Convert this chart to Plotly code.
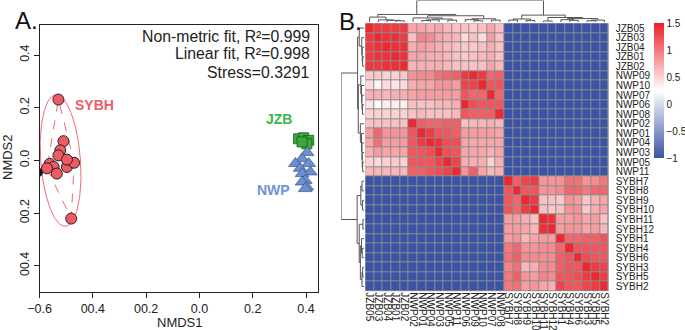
import numpy as np
import plotly.graph_objects as go

W, H = 685, 330
def px(v): return v / W
def py(v): return 1 - v / H

FONT = "Arial, Liberation Sans, Helvetica, sans-serif"

# ---------------- Panel A data (NMDS scores) ----------------
sybh_x = [-0.529, -0.510, -0.522, -0.529, -0.562, -0.547, -0.535, -0.497, -0.470, -0.497, -0.572, -0.481]
sybh_y = [0.231, 0.073, 0.038, 0.019, -0.013, -0.025, -0.050, -0.025, -0.009, 0.003, -0.030, -0.221]
jzb_x = [0.372, 0.391, 0.410, 0.403, 0.385]
jzb_y = [0.082, 0.086, 0.076, 0.063, 0.070]
nwp_x = [0.404, 0.385, 0.360, 0.410, 0.378, 0.416, 0.385, 0.397, 0.385, 0.403, 0.397]
nwp_y = [0.030, 0.006, -0.012, -0.012, -0.030, -0.044, -0.050, -0.076, -0.082, -0.101, -0.107]
edge_x = [-0.604]
edge_y = [-0.045]

x_tickvals = [-0.6, -0.4, -0.2, 0.0, 0.2, 0.4]
x_ticktext = ["\u22120.6", "00.4", "00.2", "0.0", "0.2", "0.4"]
y_tickvals = [-0.4, -0.2, 0.0, 0.2, 0.4]
y_ticktext = ["00.4", "00.2", "0.0", "0.2", "0.4"]
stats_lines = ["Non-metric fit, R\u00b2=0.999", "Linear fit, R\u00b2=0.998", "Stress=0.3291"]
stats_y = [0.470, 0.406, 0.334]

group_names = ["SYBH", "JZB", "NWP"]
group_label_x = [-0.395, 0.299, 0.277]
group_label_y = [0.209, 0.156, -0.114]
group_colors = ["#EF5B66", "#3DB54A", "#6F93D6"]

# ---------------- Panel B data (correlation heatmap) ----------------
col_labels = ["JZB05", "JZB03", "JZB04", "JZB01", "JZB02",
              "NWP02", "NWP01", "NWP04", "NWP03", "NWP05", "NWP11",
              "NWP06", "NWP09", "NWP10", "NWP07", "NWP08",
              "SYBH7", "SYBH8", "SYBH9", "SYBH10", "SYBH11", "SYBH12",
              "SYBH1", "SYBH4", "SYBH6", "SYBH3", "SYBH5", "SYBH2"]
row_labels = ["JZB05", "JZB03", "JZB04", "JZB01", "JZB02",
              "NWP09", "NWP10", "NWP07", "NWP06", "NWP08",
              "NWP02", "NWP01", "NWP04", "NWP03", "NWP05", "NWP11",
              "SYBH7", "SYBH8", "SYBH9", "SYBH10", "SYBH11", "SYBH12",
              "SYBH1", "SYBH4", "SYBH6", "SYBH3", "SYBH5", "SYBH2"]

block_jzb_nwp = [
    [1.45, 1.35, 1.35, 1.35, 1.35, 0.75, 0.75, 0.70, 0.75, 0.65, 0.60, 0.60, 0.55, 0.60, 0.75, 0.60],
    [1.35, 1.45, 1.40, 1.40, 1.35, 0.60, 0.95, 0.90, 0.75, 0.70, 0.65, 0.45, 0.60, 0.45, 0.80, 0.60],
    [1.35, 1.40, 1.45, 1.40, 1.40, 0.70, 0.80, 0.75, 0.70, 0.65, 0.60, 0.55, 0.55, 0.60, 0.70, 0.60],
    [1.35, 1.40, 1.40, 1.45, 1.40, 0.75, 0.75, 0.70, 0.70, 0.65, 0.60, 0.55, 0.60, 0.65, 0.70, 0.60],
    [1.35, 1.35, 1.40, 1.40, 1.45, 0.65, 0.70, 0.70, 0.70, 0.65, 0.60, 0.60, 0.60, 0.60, 0.75, 0.65],
    [0.55, 0.55, 0.50, 0.50, 0.55, 0.85, 0.90, 0.90, 1.05, 1.10, 1.15, 1.35, 1.45, 1.35, 1.10, 1.15],
    [0.45, 0.30, 0.45, 0.40, 0.45, 0.70, 0.75, 0.75, 0.85, 0.85, 0.80, 1.30, 1.30, 1.45, 1.20, 1.20],
    [0.70, 0.70, 0.65, 0.70, 0.70, 0.75, 0.80, 0.80, 0.80, 0.80, 0.80, 1.20, 1.10, 1.10, 1.45, 1.10],
    [0.40, 0.22, 0.35, 0.35, 0.35, 0.60, 0.60, 0.60, 0.65, 0.65, 0.70, 1.45, 1.25, 1.20, 1.20, 1.20],
    [0.50, 0.50, 0.50, 0.50, 0.50, 0.60, 0.65, 0.60, 0.60, 0.60, 0.65, 1.20, 1.15, 1.15, 1.15, 1.45],
    [0.60, 0.60, 0.60, 0.60, 0.60, 1.45, 1.15, 1.10, 1.10, 1.15, 1.15, 0.60, 0.65, 0.65, 0.70, 0.65],
    [0.80, 1.10, 0.85, 0.85, 0.85, 1.20, 1.45, 1.35, 1.20, 1.20, 1.15, 0.80, 0.80, 0.80, 0.80, 0.75],
    [0.75, 1.05, 0.80, 0.80, 0.80, 1.20, 1.35, 1.45, 1.40, 1.25, 1.25, 0.75, 0.75, 0.75, 0.75, 0.75],
    [0.70, 0.80, 0.75, 0.75, 0.75, 1.20, 1.20, 1.25, 1.45, 1.25, 1.20, 0.75, 0.75, 0.75, 0.70, 0.75],
    [0.50, 0.45, 0.50, 0.55, 0.50, 1.20, 1.20, 1.20, 1.30, 1.45, 1.30, 0.70, 0.70, 0.70, 0.50, 0.70],
    [0.65, 0.65, 0.65, 0.65, 0.65, 1.15, 1.15, 1.20, 1.25, 1.30, 1.45, 0.85, 1.15, 0.75, 0.65, 0.70],
]
block_sybh = [
    [1.45, 1.15, 1.30, 1.35, 0.85, 0.85, 0.85, 1.05, 1.05, 0.85, 0.90, 1.00],
    [1.20, 1.45, 1.20, 1.20, 0.85, 0.85, 0.90, 1.10, 1.10, 1.00, 1.10, 1.10],
    [1.20, 1.10, 1.45, 1.35, 0.60, 0.60, 0.55, 0.85, 0.80, 0.55, 0.70, 0.75],
    [1.20, 1.10, 1.35, 1.45, 0.60, 0.55, 0.60, 0.85, 0.85, 0.55, 0.70, 0.75],
    [0.80, 0.80, 0.70, 0.60, 1.45, 1.40, 0.80, 0.80, 0.85, 0.75, 0.80, 0.60],
    [0.80, 0.80, 0.75, 0.65, 1.40, 1.45, 0.80, 0.85, 0.85, 0.75, 0.80, 0.65],
    [0.80, 0.85, 0.65, 0.75, 0.80, 0.80, 1.45, 1.10, 1.10, 1.15, 1.15, 1.20],
    [1.00, 1.10, 0.85, 0.85, 0.90, 0.90, 1.10, 1.45, 1.20, 1.20, 1.20, 1.20],
    [1.05, 1.15, 0.90, 0.90, 0.90, 0.90, 1.15, 1.20, 1.45, 1.25, 1.20, 1.20],
    [0.95, 1.05, 0.65, 0.70, 0.90, 0.90, 1.15, 1.20, 1.20, 1.45, 1.35, 1.30],
    [1.00, 1.15, 0.85, 0.80, 0.95, 0.90, 1.20, 1.20, 1.25, 1.35, 1.45, 1.35],
    [1.00, 1.05, 0.80, 0.85, 0.75, 0.70, 1.30, 1.20, 1.20, 1.30, 1.35, 1.45],
]
between_value = -1.0

cbar_vals = [-1, -0.5, 0, 0.5, 1, 1.5]
cbar_text = ["\u22121", "\u22120.5", "0", "0.5", "1", "1.5"]

# dendrogram trees: (left, right, height); ints are leaf positions
col_tree = (
    ((0, (1, (2, (3, 4, 0.07), 0.09), 0.11), 0.24),
     ((5, (((6, 7, 0.08), 8, 0.11), (9, 10, 0.10), 0.15), 0.20),
      ((11, (12, 13, 0.07), 0.12), (14, 15, 0.10), 0.16), 0.30), 0.36),
    (((16, 17, 0.10), (18, 19, 0.08), 0.15),
     ((20, 21, 0.06), ((22, (23, 24, 0.09), 0.12), ((25, 26, 0.07), 27, 0.10), 0.17), 0.22), 0.33),
    1.0)
row_tree = (
    ((0, (1, (2, (3, 4, 0.07), 0.09), 0.11), 0.22),
     ((5, (6, (7, (8, 9, 0.08), 0.10), 0.12), 0.15),
      (10, (11, (12, (13, (14, 15, 0.07), 0.09), 0.10), 0.12), 0.17), 0.26), 0.29),
    (((16, 17, 0.10), (18, 19, 0.08), 0.15),
     ((20, 21, 0.06), ((22, (23, 24, 0.09), 0.12), ((25, 26, 0.07), 27, 0.10), 0.17), 0.22), 0.31),
    1.0)

# ---------------- helpers ----------------
def dendro(node, a_list, h_list):
    if isinstance(node, int):
        return float(node), 0.0
    l, r, h = node
    pl, hl = dendro(l, a_list, h_list)
    pr, hr = dendro(r, a_list, h_list)
    a_list += [pl, pl, pr, pr, None]
    h_list += [hl, h, h, hr, None]
    return (pl + pr) / 2, h

def convex_hull(points):
    P = sorted(set(points))
    def cross(o, a, b):
        return (a[0] - o[0]) * (b[1] - o[1]) - (a[1] - o[1]) * (b[0] - o[0])
    lower, upper = [], []
    for p in P:
        while len(lower) >= 2 and cross(lower[-2], lower[-1], p) <= 0:
            lower.pop()
        lower.append(p)
    for p in reversed(P):
        while len(upper) >= 2 and cross(upper[-2], upper[-1], p) <= 0:
            upper.pop()
        upper.append(p)
    h = lower[:-1] + upper[:-1]
    return h + [h[0]]

# SYBH dispersion ellipse (95% sd) from data
pts = np.column_stack([sybh_x, sybh_y])
mu = pts.mean(axis=0)
cov = np.cov(pts.T)
vals, vecs = np.linalg.eigh(cov)
t = np.linspace(0, 2 * np.pi, 240)
circ = np.vstack([np.cos(t), np.sin(t)])
k = np.sqrt(-2 * np.log(1 - 0.95))
ell = mu[:, None] + vecs @ (np.sqrt(vals)[:, None] * k * circ)
hull = convex_hull(list(zip(sybh_x, sybh_y)))

fig = go.Figure()

# ---- Panel A traces ----
fig.add_trace(go.Scatter(x=ell[0], y=ell[1], mode="lines",
                         line=dict(color="#F06A74", width=1), xaxis="x", yaxis="y", showlegend=False))
fig.add_trace(go.Scatter(x=[p[0] for p in hull], y=[p[1] for p in hull], mode="lines",
                         line=dict(color="#F06A74", width=1, dash="dash"), xaxis="x", yaxis="y", showlegend=False))
fig.add_trace(go.Scatter(x=edge_x, y=edge_y, mode="markers",
                         marker=dict(symbol="circle", size=9, color="#111111"),
                         xaxis="x", yaxis="y", showlegend=False))
fig.add_trace(go.Scatter(x=jzb_x, y=jzb_y, mode="markers",
                         marker=dict(symbol="square", size=10, color="#3BAA3C",
                                     line=dict(color="#1d5a1d", width=0.8)),
                         xaxis="x", yaxis="y", showlegend=False))
fig.add_trace(go.Scatter(x=nwp_x, y=nwp_y, mode="markers",
                         marker=dict(symbol="triangle-up", size=12, color="#6A8FD3",
                                     line=dict(color="#334466", width=0.6)),
                         xaxis="x", yaxis="y", showlegend=False))
fig.add_trace(go.Scatter(x=sybh_x, y=sybh_y, mode="markers",
                         marker=dict(symbol="circle", size=11, color="#EF5A64",
                                     line=dict(color="#222222", width=1)),
                         xaxis="x", yaxis="y", showlegend=False))

# ---- Panel B: heatmap ----
n = len(row_labels)
z = np.full((n, n), between_value)
nb = len(block_jzb_nwp)
z[:nb, :nb] = np.array(block_jzb_nwp)
z[nb:, nb:] = np.array(block_sybh)

fig.add_trace(go.Heatmap(
    z=z, x=list(range(n)), y=list(range(n)), xaxis="x2", yaxis="y2",
    zmin=-1, zmax=1.5, xgap=1, ygap=1,
    colorscale=[[0, "#3A53A4"], [0.5, "#FFFFFF"], [1, "#EC1F28"]],
    colorbar=dict(x=px(654), xanchor="left", y=py(23), yanchor="top", xpad=0, ypad=0,
                  len=135 / H, lenmode="fraction", thickness=10, thicknessmode="pixels",
                  outlinewidth=0, ticks="", tickvals=cbar_vals, ticktext=cbar_text,
                  tickfont=dict(family=FONT, size=10, color="#222")),
    hoverinfo="skip"))

xs, hs = [], []
dendro(col_tree, xs, hs)
fig.add_trace(go.Scatter(x=xs, y=hs, mode="lines", line=dict(color="#555555", width=1),
                         xaxis="x3", yaxis="y3", showlegend=False, hoverinfo="skip"))
ys, hs2 = [], []
dendro(row_tree, ys, hs2)
fig.add_trace(go.Scatter(x=hs2, y=ys, mode="lines", line=dict(color="#555555", width=1),
                         xaxis="x4", yaxis="y4", showlegend=False, hoverinfo="skip"))

hm_x0, hm_x1 = 365.3, 608.7
hm_y0, hm_y1 = 23.3, 291.3

axis_font = dict(family=FONT, size=12.5, color="#222")
fig.update_layout(
    template="none",
    width=W, height=H, margin=dict(l=0, r=0, t=0, b=0, pad=0), autosize=False,
    paper_bgcolor="white", plot_bgcolor="white", showlegend=False,
    font=dict(family=FONT, color="#222"),
    xaxis=dict(domain=[px(39.5), px(318.3)], range=[-0.6, 0.446], showline=True, mirror=True,
               linecolor="#222", linewidth=1, ticks="outside", ticklen=5, tickcolor="#222",
               tickvals=x_tickvals, ticktext=x_ticktext, tickfont=axis_font,
               showgrid=False, zeroline=False, anchor="y", automargin=False),
    yaxis=dict(domain=[py(291.7), py(25)], range=[-0.4985, 0.514], showline=True, mirror=True,
               linecolor="#222", linewidth=1, ticks="outside", ticklen=5, tickcolor="#222",
               tickvals=y_tickvals, ticktext=y_ticktext, tickfont=axis_font, tickangle=-90,
               showgrid=False, zeroline=False, anchor="x", automargin=False),
    xaxis2=dict(domain=[px(hm_x0), px(hm_x1)], range=[-0.5, n - 0.5], anchor="y2",
                tickvals=list(range(n)), ticktext=col_labels, tickangle=90,
                tickfont=dict(family=FONT, size=10, color="#222"), ticks="",
                showgrid=False, zeroline=False, showline=False, automargin=False),
    yaxis2=dict(domain=[py(hm_y1), py(hm_y0)], range=[n - 0.5, -0.5], anchor="x2", side="right",
                tickvals=list(range(n)), ticktext=row_labels, ticklabelstandoff=6,
                tickfont=dict(family=FONT, size=10, color="#222"), ticks="",
                showgrid=False, zeroline=False, showline=False, automargin=False),
    xaxis3=dict(domain=[px(hm_x0), px(hm_x1)], range=[-0.5, n - 0.5], anchor="y3",
                visible=False, automargin=False),
    yaxis3=dict(domain=[py(22.3), py(0.5)], range=[0, 1.0], anchor="x3", visible=False,
                automargin=False),
    xaxis4=dict(domain=[px(341.2), px(364.3)], range=[1.0, 0.0], anchor="y4", visible=False,
                automargin=False),
    yaxis4=dict(domain=[py(hm_y1), py(hm_y0)], range=[n - 0.5, -0.5], anchor="x4", visible=False,
                automargin=False),
    shapes=[dict(type="rect", xref="x2", yref="y2", x0=-0.56, x1=n - 0.44, y0=-0.56, y1=n - 0.44,
                 fillcolor="#8C8C8C", line=dict(width=0), layer="below")],
)

ann = []
for txt, yv in zip(stats_lines, stats_y):
    ann.append(dict(x=0.423, y=yv, xref="x", yref="y", text=txt, showarrow=False,
                    xanchor="right", yanchor="middle", font=dict(family=FONT, size=15.8, color="#222")))
for name, gx, gy, gc in zip(group_names, group_label_x, group_label_y, group_colors):
    ann.append(dict(x=gx, y=gy, xref="x", yref="y", text="<b>%s</b>" % name, showarrow=False,
                    xanchor="center", yanchor="middle", font=dict(family=FONT, size=14, color=gc)))
ann.append(dict(x=px(180), y=py(322), xref="paper", yref="paper", text="NMDS1", showarrow=False,
                xanchor="center", yanchor="middle", font=dict(family=FONT, size=13, color="#222")))
ann.append(dict(x=px(7), y=py(157), xref="paper", yref="paper", text="NMDS2", showarrow=False,
                textangle=-90, xanchor="center", yanchor="middle",
                font=dict(family=FONT, size=13, color="#222")))
ann.append(dict(x=px(13), y=py(21), xref="paper", yref="paper", text="A.", showarrow=False,
                xanchor="left", yanchor="middle", font=dict(family=FONT, size=24, color="#111")))
ann.append(dict(x=px(337), y=py(22), xref="paper", yref="paper", text="B.", showarrow=False,
                xanchor="left", yanchor="middle", font=dict(family=FONT, size=24, color="#111")))
fig.update_layout(annotations=ann)

fig.write_html("out.html", config={"displayModeBar": False},
               post_script="document.body.style.margin='0px';")
